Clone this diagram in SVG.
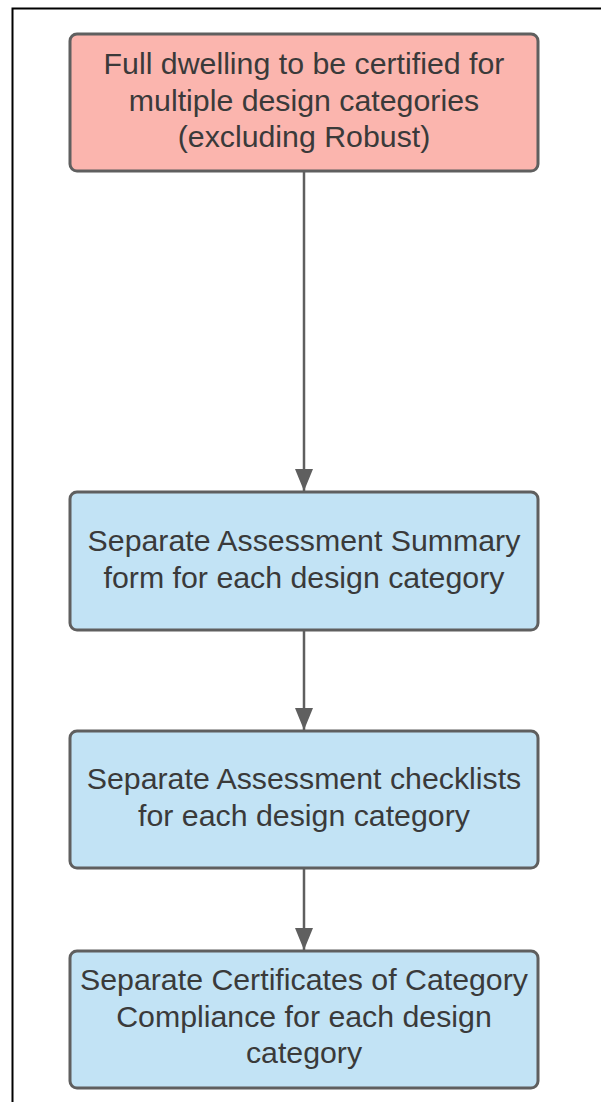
<svg xmlns="http://www.w3.org/2000/svg" width="601" height="1102" viewBox="0 0 601 1102">
<style>
.box{stroke:#5f5f5f;stroke-width:3}
.red{fill:#fbb5ae}
.blue{fill:#c2e3f5}
text{font-family:"Liberation Sans",Arial,sans-serif;font-size:30.3px;fill:#3a3a3a;text-anchor:middle}
.conn{stroke:#5f5f5f;stroke-width:2.5;fill:none}
</style>
<defs>
<marker id="ah" viewBox="0 0 22 18" refX="22" refY="9" markerWidth="22" markerHeight="18" markerUnits="userSpaceOnUse" orient="auto">
<path d="M0,0 L22,9 L0,18 Z" fill="#5f5f5f"/>
</marker>
</defs>
<rect width="601" height="1102" fill="#fff"/>
<rect x="12.5" y="8.5" width="620" height="1120" fill="none" stroke="#000" stroke-width="2"/>
<g id="connectors">
<line class="conn" x1="304" y1="171" x2="304" y2="491" marker-end="url(#ah)"/>
<line class="conn" x1="304" y1="630" x2="304" y2="730" marker-end="url(#ah)"/>
<line class="conn" x1="304" y1="868" x2="304" y2="950" marker-end="url(#ah)"/>
</g>
<g id="n1">
<rect class="box red" x="70" y="34" width="468" height="137" rx="7"/>
<text x="304" y="74">Full dwelling to be certified for</text>
<text x="304" y="111">multiple design categories</text>
<text x="304" y="147">(excluding Robust)</text>
</g>
<g id="n2">
<rect class="box blue" x="70" y="492" width="468" height="138" rx="7"/>
<text x="304" y="551">Separate Assessment Summary</text>
<text x="304" y="588">form for each design category</text>
</g>
<g id="n3">
<rect class="box blue" x="70" y="731" width="468" height="137" rx="7"/>
<text x="304" y="789">Separate Assessment checklists</text>
<text x="304" y="826">for each design category</text>
</g>
<g id="n4">
<rect class="box blue" x="70" y="951" width="468" height="137" rx="7"/>
<text x="304" y="990">Separate Certificates of Category</text>
<text x="304" y="1027">Compliance for each design</text>
<text x="304" y="1063">category</text>
</g>
</svg>
